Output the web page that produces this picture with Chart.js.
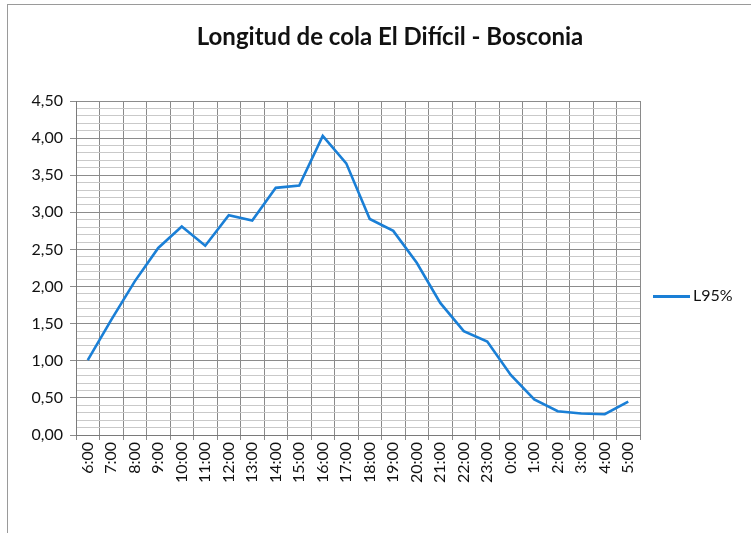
<!DOCTYPE html>
<html>
<head>
<meta charset="utf-8">
<script src="https://cdn.jsdelivr.net/npm/chart.js@4"></script>
<style>
  body { margin: 0; background: #fff; overflow: hidden; }
  #frame {
    position: absolute; left: 7px; top: 4px; width: 744px; height: 529px;
    border-left: 1px solid #9a9a9a; border-top: 1px solid #9a9a9a;
  }
  #chart { position: absolute; left: 0; top: 0; }
  #title {
    position: absolute; left: 90px; top: 21px; width: 600px; text-align: center;
    font: bold 24px Lato, "Open Sans", sans-serif; color: #111; white-space: nowrap;
  }
  #legend {
    position: absolute; left: 653px; top: 285px;
    font: 16px Lato, "Open Sans", sans-serif; color: #111; white-space: nowrap;
  }
  #legend i {
    display: inline-block; width: 37px; height: 3px; background: #1a7fd6;
    vertical-align: middle; margin-right: 3px;
  }
</style>
</head>
<body>
<div id="frame">
  <canvas id="chart" width="743" height="528"></canvas>
</div>
<div id="title">Longitud de cola El Difícil - Bosconia</div>
<div id="legend"><i></i>L95%</div>
<script>
const hours = ['6:00', '7:00', '8:00', '9:00', '10:00', '11:00', '12:00', '13:00',
    '14:00', '15:00', '16:00', '17:00', '18:00', '19:00', '20:00', '21:00',
    '22:00', '23:00', '0:00', '1:00', '2:00', '3:00', '4:00', '5:00'];

const l95 = [1.01, 1.55, 2.07, 2.52, 2.81, 2.55, 2.96, 2.89,
    3.33, 3.36, 4.03, 3.66, 2.91, 2.75, 2.32, 1.78,
    1.40, 1.26, 0.81, 0.48, 0.32, 0.29, 0.28, 0.45];

const seriesName = 'L95%';
const yMin = 0, yMax = 4.5, yMinorStep = 0.1, yMajorStep = 0.5;

function isMajor(v) {
    const k = v / yMajorStep;
    return Math.abs(k - Math.round(k)) < 1e-6;
}

const ctx = document.getElementById('chart').getContext('2d');

let chart = new Chart(ctx, {
    type: 'line',
    data: {
        labels: hours,
        datasets: [{
            label: seriesName,
            data: l95,
            borderColor: '#1a7fd6',
            borderWidth: 2.6,
            pointRadius: 0,
            tension: 0,
            fill: false
        }]
    },
    options: {
        responsive: false,
        devicePixelRatio: 1,
        animation: false,
        layout: { padding: { left: 0, right: 111, top: 96, bottom: 0 } },
        plugins: {
            legend: { display: false },
            title: { display: false },
            tooltip: { enabled: false }
        },
        scales: {
            x: {
                offset: true,
                grid: {
                    offset: true,
                    color: '#8a8a8a',
                    tickLength: 5,
                    lineWidth: 1
                },
                border: { color: '#7a7a7a' },
                ticks: {
                    autoSkip: false,
                    minRotation: 90,
                    maxRotation: 90,
                    padding: 2,
                    color: '#111',
                    font: { family: 'Lato, "Open Sans", sans-serif', size: 16 }
                },
                afterFit: s => { s.height = 98; }
            },
            y: {
                min: yMin,
                max: yMax,
                grid: {
                    color: c => isMajor(c.tick.value) ? '#8c8c8c' : '#c9c9c9',
                    tickColor: c => isMajor(c.tick.value) ? '#8c8c8c' : 'rgba(0,0,0,0)',
                    tickLength: 6
                },
                border: { color: '#7a7a7a' },
                ticks: {
                    stepSize: yMinorStep,
                    maxTicksLimit: 100,
                    autoSkip: false,
                    padding: 7,
                    color: '#111',
                    font: { family: 'Lato, "Open Sans", sans-serif', size: 16 },
                    callback: v => isMajor(v) ? v.toFixed(2).replace('.', ',') : ''
                },
                afterFit: s => { s.width = 68; }
            }
        }
    }
});
</script>
</body>
</html>
